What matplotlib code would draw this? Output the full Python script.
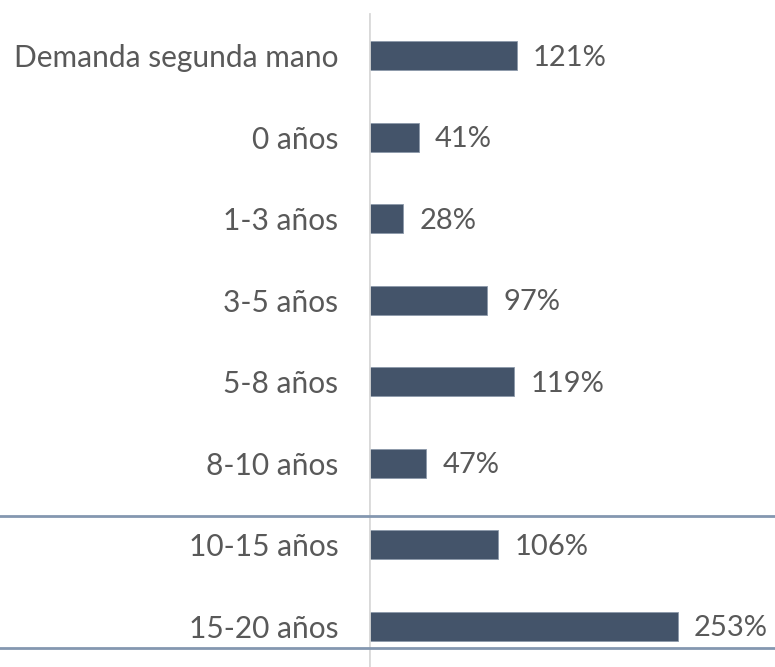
import matplotlib
matplotlib.use('Agg')
import matplotlib.pyplot as plt
from matplotlib.lines import Line2D

categories = ["Demanda segunda mano", "0 años", "1-3 años", "3-5 años",
              "5-8 años", "8-10 años", "10-15 años", "15-20 años"]
values = [121, 41, 28, 97, 119, 47, 106, 253]

BAR_COLOR = "#44546A"
TEXT_COLOR = "#595959"
SEP_COLOR = "#8497B0"
AXIS_COLOR = "#D9D9D9"

plt.rcParams['font.family'] = ['Lato', 'DejaVu Sans']

W, H = 775, 667
fig = plt.figure(figsize=(W / 100, H / 100), dpi=100)

# axes from the value axis line to the right edge, full height
x0 = 369
px_per_pct = 1.221
ax = fig.add_axes([x0 / W, 0, (W - x0) / W, 1])
ax.set_xlim(0, (W - x0) / px_per_pct)

y_first, step = 55.5, 81.57
ax.set_ylim((H - y_first) / step, -y_first / step)

pos = list(range(len(categories)))
ax.barh(pos, values, height=29 / step, color=BAR_COLOR,
        edgecolor="#8C99AA", linewidth=0.6)

for p, v in zip(pos, values):
    ax.annotate(f"{v}%", (v, p), xytext=(16, -2), textcoords="offset pixels",
                ha="left", va="center", fontsize=21, color=TEXT_COLOR)

ax.set_yticks(pos)
ax.set_yticklabels(categories, fontsize=21.5, color=TEXT_COLOR)
ax.tick_params(axis="y", length=0, pad=22)
ax.set_xticks([])
for s in ax.spines.values():
    s.set_visible(False)

ax.axvline(0, ymin=0, ymax=1 - 14 / H, color=AXIS_COLOR, linewidth=2)

# separator lines across the whole figure
for ypx in (516, 648):
    yf = 1 - ypx / H
    fig.add_artist(Line2D([0, 1], [yf, yf], transform=fig.transFigure,
                          color=SEP_COLOR, linewidth=2))

fig.savefig("out.png", dpi=100)
